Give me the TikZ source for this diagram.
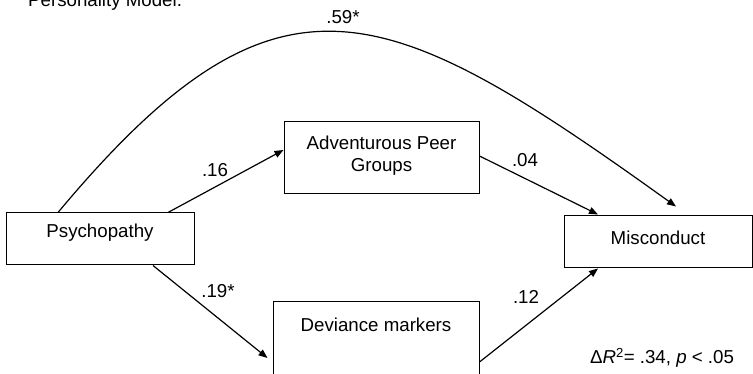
\documentclass[tikz,border=0pt]{standalone}
\usepackage{fontspec}
\setmainfont{Liberation Sans}
\usetikzlibrary{calc,arrows.meta}
\tikzset{
    varbox/.style={draw, line width=1pt, inner sep=0pt, align=center, font=\fontsize{18.7}{22}\selectfont},
    weight/.style={inner sep=0pt, font=\fontsize{18.7}{22}\selectfont},
    link/.style={line width=1.2pt, -{Triangle[length=9pt,width=7pt]}}
}
\begin{document}
\begin{tikzpicture}[x=1pt, y=-1pt]
                \useasboundingbox (0,0) rectangle (753,374);
                \node[weight, anchor=base west] (title) at (28,7) {Personality Model.};

                \node[varbox, minimum width=188pt, text height=25pt, text depth=27pt] (psy) at (100,239) {Psychopathy};
                \node[varbox, minimum width=195pt, text height=50pt, text depth=22pt] (adv) at (381.5,158) {Adventurous Peer\\Groups};
                \node[varbox, minimum width=206pt, text height=30pt, text depth=46pt] (dev) at (376,340) {Deviance markers};
                \node[varbox, minimum width=188pt, text height=29pt, text depth=23pt] (mis) at (658,242) {Misconduct};

                \draw[link] ($(psy.north)+(-42,0)$) .. controls (278,-51) and (384,-3) .. ($(mis.north)+(18,-9)$);
                \draw[link] ($(psy.north)+(68,0)$) -- ($(adv.west)+(0,-8)$);
                \draw[link] ($(adv.east)+(0,-2)$) -- ($(mis.north)+(-60,-1)$);
                \draw[link] ($(psy.south)+(53,0)$) -- ($(dev.west)+(-5,18)$);
                \draw[link] ($(dev.east)+(0,22)$) -- ($(mis.south)+(-60,0)$);

                \node[weight] (w59) at (343,17) {.59*};
                \node[weight] (w16) at (215,170) {.16};
                \node[weight] (w04) at (525,160) {.04};
                \node[weight] (w19) at (218,291) {.19*};
                \node[weight] (w12) at (526,297) {.12};
                \node[weight] (fit) at (662,358) {Δ\textit{R}\textsuperscript{2}= .34, \textit{p} < .05};
            \end{tikzpicture}
\end{document}
